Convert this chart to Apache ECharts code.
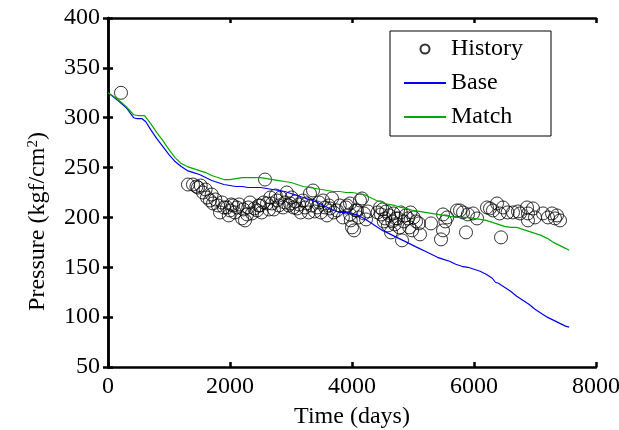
<!DOCTYPE html>
<html>
<head>
<meta charset="utf-8">
<script src="https://cdn.jsdelivr.net/npm/echarts@6/dist/echarts.min.js"></script>
<style>html,body{margin:0;padding:0;background:#fff}#c{width:619px;height:430px}</style>
</head>
<body>
<div id="c"></div>
<script>
const seriesNames = ['History', 'Base', 'Match'];
const xTicks = [0, 2000, 4000, 6000, 8000];
const yTicks = [50, 100, 150, 200, 250, 300, 350, 400];

const baseDays = [0,150,300,420,480,560,620,700,800,900,1000,1100,1200,1300,1400,1500,1600,1700,1800,1900,2000,2100,2200,2300,2400,2500,2600,2700,2800,2900,3000,3100,3200,3300,3400,3500,3600,3700,3800,3900,4000,4100,4200,4300,4400,4500,4600,4700,4800,4900,5000,5100,5200,5300,5400,5500,5600,5700,5800,5900,6000,6100,6200,6300,6350,6400,6500,6600,6700,6800,6900,7000,7100,7200,7300,7400,7500,7560];
const basePressure = [325,318,310,300,299,299,296,288,279,271,263,256,251,247,245,243,240,237,235,233,232,231,231,230,230,230,229,228,227,226,224,222,220,218,216,213,210,207,205,205,204,202,199,195,191,187,184,181,178,175,172,169,166,163,160,158,156,153,151,150,148,146,143,139,135,134,130,126,121,117,113,108,104,100,97,94,91,90];

const matchDays = [0,150,300,420,500,600,700,800,900,1000,1100,1200,1300,1400,1500,1600,1700,1800,1900,2000,2100,2200,2300,2400,2500,2600,2700,2800,2900,3000,3100,3200,3300,3400,3500,3600,3700,3800,3900,4000,4100,4200,4300,4400,4500,4600,4700,4800,4900,5000,5100,5200,5300,5400,5500,5600,5700,5800,5900,6000,6100,6200,6300,6400,6500,6600,6700,6800,6900,7000,7100,7200,7300,7400,7500,7560];
const matchPressure = [325,319,311,303,302,302,294,285,277,268,260,254,251,249,247,245,242,240,238,238,239,240,240,240,240,239,238,237,236,235,233,231,230,229,228,227,226,226,225,225,224,223,220,217,215,213,212,210,209,207,206,205,204,203,202,201,200,200,200,199,198,197,195,193,191,190,190,188,186,184,182,179,175,172,169,167];

const historyDays = [213,1311,1393,1450,1475,1520,1557,1600,1623,1672,1700,1721,1760,1803,1836,1870,1900,1951,1980,2000,2020,2049,2080,2115,2150,2197,2220,2246,2280,2300,2328,2361,2400,2443,2470,2492,2520,2550,2574,2607,2640,2660,2689,2720,2750,2770,2800,2830,2869,2900,2930,2960,2984,3010,3040,3070,3098,3130,3160,3197,3230,3260,3290,3311,3340,3361,3390,3426,3460,3490,3525,3560,3590,3620,3639,3672,3700,3754,3800,3850,3900,3918,3967,3967,3980,4000,4033,4060,4082,4110,4131,4164,4197,4230,4260,4420,4460,4475,4500,4520,4541,4560,4590,4610,4639,4660,4680,4700,4720,4754,4780,4800,4820,4850,4880,4918,4940,4960,4984,5010,5050,5098,5115,5295,5459,5492,5492,5530,5560,5721,5770,5820,5869,5900,5984,6050,6213,6262,6311,6377,6420,6443,6475,6550,6639,6721,6754,6869,6885,6885,6967,7000,7131,7213,7279,7328,7361,7410];
const historyPressure = [325,233,233,231,230,232,225,228,220,217,223,214,218,212,205,215,210,210,202,207,213,212,205,210,213,199,208,197,203,210,215,204,209,207,212,212,205,215,238,214,208,220,214,208,222,217,212,220,210,215,225,212,214,220,210,216,209,213,205,217,210,214,205,224,212,227,206,210,215,205,217,210,202,212,209,219,205,207,212,200,210,212,203,214,197,190,187,207,207,200,217,219,204,198,206,205,210,203,208,196,199,206,192,202,185,196,204,193,199,199,190,205,177,196,202,199,190,205,187,200,196,194,183,194,178,187,203,196,200,207,207,205,185,203,204,199,210,209,207,214,204,180,210,205,205,206,204,210,204,197,209,200,204,200,204,199,202,197];

const zip = (a, b) => a.map((v, i) => [v, b[i]]);
const FONT = 'Liberation Serif';
const axisLine = { show: true, lineStyle: { color: '#000', width: 2.5 } };
const tick = { show: true, inside: true, length: 5, lineStyle: { color: '#000', width: 2.5 } };

const chart = echarts.init(document.getElementById('c'), null, { renderer: 'canvas' });
chart.setOption({
  animation: false,
  backgroundColor: '#fff',
  grid: { left: 108, right: 23, top: 18, bottom: 63, containLabel: false, outerBoundsMode: 'none' },
  legend: {
    data: [
      { name: seriesNames[0] },
      { name: seriesNames[1], itemStyle: { opacity: 0 } },
      { name: seriesNames[2], itemStyle: { opacity: 0 } }
    ],
    orient: 'vertical',
    left: 390, top: 31,
    borderColor: '#000', borderWidth: 1, borderRadius: 0,
    padding: [6, 28, 7, 13],
    itemWidth: 42, itemHeight: 9, itemGap: 10,
    textStyle: { fontFamily: FONT, fontSize: 24, lineHeight: 24, color: '#000' }
  },
  xAxis: [
    { type: 'value', min: xTicks[0], max: xTicks[xTicks.length - 1], interval: 2000,
      name: 'Time (days)', nameLocation: 'middle', nameGap: 38,
      nameTextStyle: { fontFamily: FONT, fontSize: 24, color: '#000' },
      axisLine, axisTick: tick, splitLine: { show: false },
      axisLabel: { fontFamily: FONT, fontSize: 24, color: '#000', margin: 8, formatter: v => String(v) } },
    { type: 'value', position: 'top', min: xTicks[0], max: xTicks[xTicks.length - 1], interval: 2000,
      axisLine, axisTick: tick, splitLine: { show: false }, axisLabel: { show: false } }
  ],
  yAxis: [
    { type: 'value', min: yTicks[0], max: yTicks[yTicks.length - 1], interval: 50,
      name: '{n|Pressure (kgf/cm}{s|2}{n|)}', nameLocation: 'middle', nameGap: 58,
      nameTextStyle: { fontFamily: FONT, fontSize: 24, color: '#000', padding: [0, 58, 0, 0],
        rich: { n: { fontFamily: FONT, fontSize: 24, color: '#000' },
                s: { fontFamily: FONT, fontSize: 15, color: '#000', verticalAlign: 'top', padding: [0, 0, 8, 0] } } },
      axisLine, axisTick: tick, splitLine: { show: false },
      axisLabel: { fontFamily: FONT, fontSize: 24, color: '#000', margin: 8, formatter: v => String(v) } },
    { type: 'value', position: 'right', min: yTicks[0], max: yTicks[yTicks.length - 1], interval: 50,
      axisLine, axisTick: tick, splitLine: { show: false }, axisLabel: { show: false } }
  ],
  series: [
    { name: seriesNames[0], type: 'scatter', data: zip(historyDays, historyPressure),
      symbol: 'circle', symbolSize: 13,
      itemStyle: { color: 'rgba(0,0,0,0)', borderColor: '#000', borderWidth: 1 } },
    { name: seriesNames[1], type: 'line', data: zip(baseDays, basePressure), symbol: 'none',
      lineStyle: { color: '#0000ff', width: 1.2 }, itemStyle: { color: '#0000ff' } },
    { name: seriesNames[2], type: 'line', data: zip(matchDays, matchPressure), symbol: 'none',
      lineStyle: { color: '#00aa00', width: 1.2 }, itemStyle: { color: '#00aa00' } }
  ]
});
</script>
</body>
</html>
